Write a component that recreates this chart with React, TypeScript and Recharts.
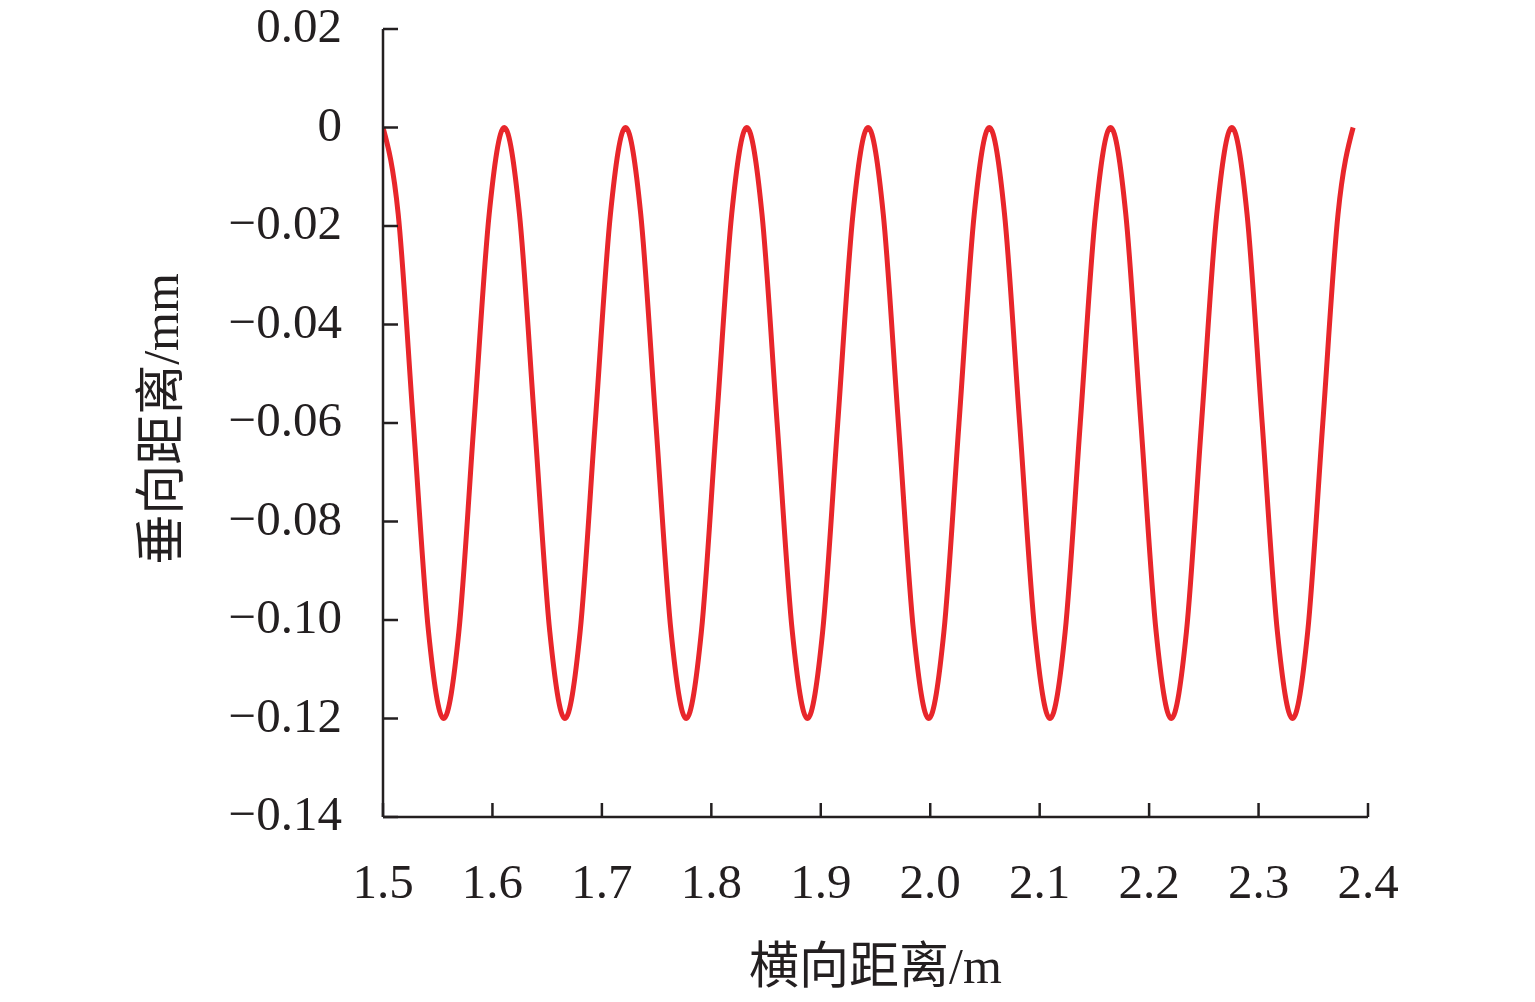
import React from 'react';
import { LineChart, Line, XAxis, YAxis, Label } from 'recharts';

// 横向距离 (m), sampled every 1/8 of a wave
const distX = [
  1.5, 1.5139, 1.5277, 1.5416, 1.5554, 1.5693, 1.5831, 1.597,
  1.6108, 1.6247, 1.6385, 1.6524, 1.6662, 1.6801, 1.6939, 1.7078,
  1.7216, 1.7355, 1.7493, 1.7632, 1.777, 1.7909, 1.8047, 1.8186,
  1.8324, 1.8463, 1.8601, 1.874, 1.8878, 1.9017, 1.9155, 1.9294,
  1.9432, 1.9571, 1.9709, 1.9848, 1.9986, 2.0125, 2.0263, 2.0402,
  2.054, 2.0679, 2.0817, 2.0956, 2.1094, 2.1233, 2.1371, 2.151,
  2.1648, 2.1787, 2.1925, 2.2064, 2.2202, 2.2341, 2.2479, 2.2618,
  2.2756, 2.2895, 2.3033, 2.3172, 2.331, 2.3449, 2.3587, 2.3726,
  2.3864
];

// 垂向距离 (mm)
const depthY = [
  0, -0.0176, -0.06, -0.1024, -0.12, -0.1024, -0.06, -0.0176,
  0, -0.0176, -0.06, -0.1024, -0.12, -0.1024, -0.06, -0.0176,
  0, -0.0176, -0.06, -0.1024, -0.12, -0.1024, -0.06, -0.0176,
  0, -0.0176, -0.06, -0.1024, -0.12, -0.1024, -0.06, -0.0176,
  0, -0.0176, -0.06, -0.1024, -0.12, -0.1024, -0.06, -0.0176,
  0, -0.0176, -0.06, -0.1024, -0.12, -0.1024, -0.06, -0.0176,
  0, -0.0176, -0.06, -0.1024, -0.12, -0.1024, -0.06, -0.0176,
  0, -0.0176, -0.06, -0.1024, -0.12, -0.1024, -0.06, -0.0176,
  0
];

const xTicks = [1.5, 1.6, 1.7, 1.8, 1.9, 2.0, 2.1, 2.2, 2.3, 2.4];
const yTicks = [0.02, 0, -0.02, -0.04, -0.06, -0.08, -0.1, -0.12, -0.14];

const AXIS = '#231f20';
const FONT = '"Liberation Serif", "Times New Roman", "Noto Sans CJK SC", serif';

const fmtY = (v: number) => {
  if (v === 0) return '0';
  if (v < 0) return '\u2212' + Math.abs(v).toFixed(2);
  return v.toFixed(2);
};

// ticks point inward, labels drawn by hand
const XTick = ({ x, y, payload }: any) => (
  <g>
    <line x1={x} y1={y} x2={x} y2={y - 14} stroke={AXIS} strokeWidth={2.5} />
    <text x={x} y={y + 81} textAnchor="middle" fill={AXIS} fontSize={49} fontFamily={FONT}>
      {Number(payload.value).toFixed(1)}
    </text>
  </g>
);

const YTick = ({ x, y, payload }: any) => (
  <g>
    <line x1={x} y1={y} x2={x + 15} y2={y} stroke={AXIS} strokeWidth={2.5} />
    <text x={x - 41} y={y + 13} textAnchor="end" fill={AXIS} fontSize={49} fontFamily={FONT}>
      {fmtY(payload.value)}
    </text>
  </g>
);

const App: React.FC = () => {
  const chartData = distX.map((x, i) => ({ x, y: depthY[i] }));

  return (
    <div style={{ position: 'absolute', left: 0, top: 0, width: 1535, height: 1002, background: '#fff' }}>
      <LineChart
        width={1535}
        height={1002}
        data={chartData}
        margin={{ top: 29, right: 167, left: 0, bottom: 0 }}
      >
        <XAxis
          dataKey="x"
          type="number"
          domain={[1.5, 2.4]}
          ticks={xTicks}
          allowDataOverflow
          height={185}
          axisLine={{ stroke: AXIS, strokeWidth: 2.5 }}
          tickLine={false}
          tickSize={0}
          tickMargin={0}
          tick={<XTick />}
          interval={0}
        >
          <Label
            content={({ viewBox }: any) => (
              <text
                x={viewBox.x + viewBox.width / 2}
                y={983}
                textAnchor="middle"
                fill={AXIS}
                fontSize={50}
                fontFamily={FONT}
              >
                横向距离/m
              </text>
            )}
          />
        </XAxis>
        <YAxis
          type="number"
          domain={[-0.14, 0.02]}
          ticks={yTicks}
          allowDataOverflow
          width={383}
          axisLine={{ stroke: AXIS, strokeWidth: 2.5 }}
          tickLine={false}
          tickSize={0}
          tickMargin={0}
          tick={<YTick />}
          interval={0}
        >
          <Label
            content={() => (
              <text
                x={178}
                y={419}
                transform="rotate(-90 178 419)"
                textAnchor="middle"
                fill={AXIS}
                fontSize={50}
                fontFamily={FONT}
              >
                垂向距离/mm
              </text>
            )}
          />
        </YAxis>
        <Line
          type="monotone"
          dataKey="y"
          stroke="#e8262b"
          strokeWidth={5}
          dot={false}
          activeDot={false}
          isAnimationActive={false}
        />
      </LineChart>
    </div>
  );
};

export default App;
